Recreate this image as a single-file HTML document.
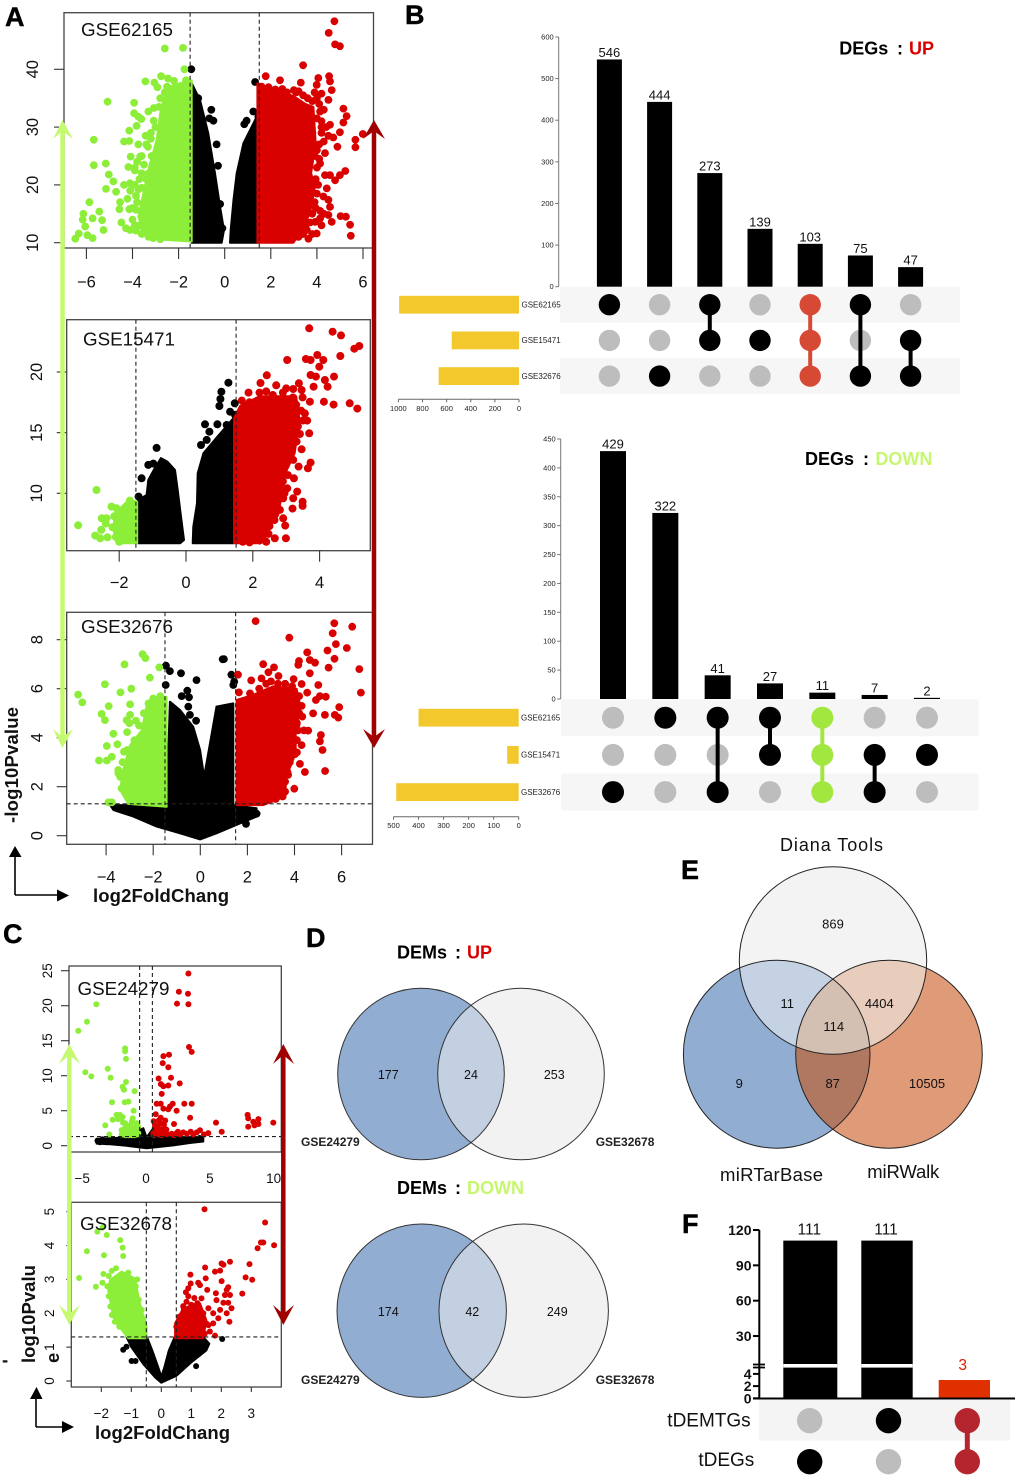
<!DOCTYPE html>
<html lang="en">
<head>
<meta charset="utf-8">
<title>DEG and DEM multi-panel figure</title>
<style>
html,body{margin:0;padding:0;background:#fff;}
svg{display:block;font-family:"Liberation Sans",Arial,sans-serif;}
.letter{font-size:27px;font-weight:bold;fill:#000;stroke:#000;stroke-width:.4px;}
.ttl{font-size:18px;font-weight:bold;fill:#000;}
.gse{font-size:18.8px;fill:#111;}
.axt{font-size:18.5px;font-weight:bold;fill:#111;}
.vn{font-size:12.5px;fill:#111;text-anchor:middle;}
.vnE{font-size:13px;fill:#111;text-anchor:middle;}
.vl{font-size:12px;font-weight:bold;fill:#222;}
</style>
</head>
<body>
<svg id="fig" xmlns="http://www.w3.org/2000/svg" width="1020" height="1479" viewBox="0 0 1020 1479">
<defs>
<clipPath id="cU"><ellipse cx="521" cy="1074" rx="83.3" ry="85.8"/></clipPath>
<clipPath id="cD"><ellipse cx="523.7" cy="1310.7" rx="84.7" ry="86.7"/></clipPath>
<clipPath id="eT"><ellipse cx="833" cy="960.5" rx="93.7" ry="93.8"/></clipPath>
<clipPath id="eL"><ellipse cx="776.7" cy="1054.2" rx="93.3" ry="94"/></clipPath>
</defs>
<rect width="1020" height="1479" fill="#fff"/>
<g id="plots"></g>

<!-- Venn D -->
<g>
<ellipse cx="421" cy="1074" rx="83.3" ry="85.8" fill="#91aed2"/>
<ellipse cx="521" cy="1074" rx="83.3" ry="85.8" fill="#f2f2f2"/>
<ellipse cx="421" cy="1074" rx="83.3" ry="85.8" fill="#c3d0e1" clip-path="url(#cU)"/>
<ellipse cx="421" cy="1074" rx="83.3" ry="85.8" fill="none" stroke="#333" stroke-width="1"/>
<ellipse cx="521" cy="1074" rx="83.3" ry="85.8" fill="none" stroke="#333" stroke-width="1"/>
<text class="vn" x="388.3" y="1079">177</text>
<text class="vn" x="471" y="1079">24</text>
<text class="vn" x="554.3" y="1079">253</text>
<text class="vl" x="301" y="1146">GSE24279</text>
<text class="vl" x="595.7" y="1146">GSE32678</text>
</g>
<g>
<ellipse cx="421.7" cy="1310.7" rx="84.7" ry="86.7" fill="#91aed2"/>
<ellipse cx="523.7" cy="1310.7" rx="84.7" ry="86.7" fill="#f2f2f2"/>
<ellipse cx="421.7" cy="1310.7" rx="84.7" ry="86.7" fill="#c3d0e1" clip-path="url(#cD)"/>
<ellipse cx="421.7" cy="1310.7" rx="84.7" ry="86.7" fill="none" stroke="#333" stroke-width="1"/>
<ellipse cx="523.7" cy="1310.7" rx="84.7" ry="86.7" fill="none" stroke="#333" stroke-width="1"/>
<text class="vn" x="388.3" y="1316">174</text>
<text class="vn" x="472.3" y="1316">42</text>
<text class="vn" x="557.3" y="1316">249</text>
<text class="vl" x="301" y="1384">GSE24279</text>
<text class="vl" x="595.7" y="1384">GSE32678</text>
</g>

<!-- Venn E -->
<g>
<ellipse cx="776.7" cy="1054.2" rx="93.3" ry="94" fill="#91aed2"/>
<ellipse cx="889" cy="1054.2" rx="93.3" ry="94" fill="#df9a78"/>
<g clip-path="url(#eL)"><ellipse cx="889" cy="1054.2" rx="93.3" ry="94" fill="#b07860"/></g>
<ellipse cx="833" cy="960.5" rx="93.7" ry="93.8" fill="#f3f3f3"/>
<g clip-path="url(#eT)">
<ellipse cx="776.7" cy="1054.2" rx="93.3" ry="94" fill="#c5d2e3"/>
<ellipse cx="889" cy="1054.2" rx="93.3" ry="94" fill="#e8ccbc"/>
<g clip-path="url(#eL)"><ellipse cx="889" cy="1054.2" rx="93.3" ry="94" fill="#d4bfb3"/></g>
</g>
<ellipse cx="776.7" cy="1054.2" rx="93.3" ry="94" fill="none" stroke="#222" stroke-width="1"/>
<ellipse cx="889" cy="1054.2" rx="93.3" ry="94" fill="none" stroke="#222" stroke-width="1"/>
<ellipse cx="833" cy="960.5" rx="93.7" ry="93.8" fill="none" stroke="#222" stroke-width="1"/>
<text class="vnE" x="833" y="928.5">869</text>
<text class="vnE" x="787.3" y="1008">11</text>
<text class="vnE" x="879.3" y="1008">4404</text>
<text class="vnE" x="833.7" y="1031">114</text>
<text class="vnE" x="739.3" y="1088">9</text>
<text class="vnE" x="832.7" y="1088">87</text>
<text class="vnE" x="927" y="1088">10505</text>
<text x="780" y="851" font-size="18" fill="#111" textLength="103">Diana Tools</text>
<text x="720" y="1181" font-size="18.5" fill="#111" textLength="103">miRTarBase</text>
<text x="867.3" y="1178" font-size="18.5" fill="#111" textLength="72">miRWalk</text>
</g>

<!-- Headings and letters -->
<text class="letter" x="5" y="26">A</text>
<text class="letter" x="405" y="24">B</text>
<text class="letter" x="3" y="943">C</text>
<text class="letter" x="306" y="947">D</text>
<text class="letter" x="681" y="879">E</text>
<text class="letter" x="682" y="1233">F</text>

<text class="ttl" x="839.3" y="54.3">DEGs<tspan x="897">:</tspan><tspan x="909" fill="#d90000">UP</tspan></text>
<text class="ttl" x="805" y="465">DEGs<tspan x="863">:</tspan><tspan x="875.4" fill="#c6f76e">DOWN</tspan></text>
<text class="ttl" x="397" y="958.3">DEMs<tspan x="455">:</tspan><tspan x="467" fill="#d90000">UP</tspan></text>
<text class="ttl" x="397" y="1194">DEMs<tspan x="455">:</tspan><tspan x="467" fill="#c6f76e">DOWN</tspan></text>

<!-- Axis titles -->
<text class="axt" transform="translate(18,823) rotate(-90)" textLength="116">-log10Pvalue</text>
<text class="axt" x="93" y="902" textLength="136">log2FoldChang</text>
<text class="axt" transform="translate(35,1363) rotate(-90)" textLength="98">log10Pvalu</text>
<text class="axt" transform="translate(59,1363) rotate(-90)">e</text>
<text class="axt" x="2" y="1366">-</text>
<text class="axt" x="95" y="1439" textLength="135">log2FoldChang</text>

<!-- Direction arrows -->
<g>
<line x1="15" y1="895" x2="15" y2="856" stroke="#000" stroke-width="1.6"/>
<polygon points="15,846 9,857 21.5,857" fill="#000"/>
<line x1="15" y1="895" x2="58" y2="895" stroke="#000" stroke-width="1.6"/>
<polygon points="69,895.5 57,889.5 57,901.5" fill="#000"/>
<line x1="62.5" y1="126" x2="62.5" y2="742" stroke="#c5fa70" stroke-width="4.5"/>
<polygon points="62.5,120 73,139 62.5,131 53,139" fill="#c5fa70"/>
<polygon points="62.5,748 73,729 62.5,737 53,729" fill="#c5fa70"/>
<line x1="374" y1="126" x2="374" y2="742" stroke="#a00000" stroke-width="4.5"/>
<polygon points="374,120 385,139 374,131 363,139" fill="#a00000"/>
<polygon points="374,748 385,729 374,737 363,729" fill="#a00000"/>
</g>
<g>
<line x1="36" y1="1427" x2="36" y2="1398" stroke="#000" stroke-width="1.6"/>
<polygon points="36.5,1387 30,1399 42.5,1399" fill="#000"/>
<line x1="36" y1="1427" x2="63" y2="1427" stroke="#000" stroke-width="1.6"/>
<polygon points="74,1427 62,1421 62,1433" fill="#000"/>
<line x1="69.3" y1="1050" x2="69.3" y2="1319" stroke="#c5fa70" stroke-width="4.5"/>
<polygon points="69.3,1044 80,1064 69.3,1055 59,1064" fill="#c5fa70"/>
<polygon points="69.3,1325 80,1305 69.3,1314 59,1305" fill="#c5fa70"/>
<line x1="283.3" y1="1050" x2="283.3" y2="1319" stroke="#a00000" stroke-width="4.5"/>
<polygon points="283.3,1044 294,1064 283.3,1055 273,1064" fill="#a00000"/>
<polygon points="283.3,1325 294,1305 283.3,1314 273,1305" fill="#a00000"/>
</g>
</svg>

<script>
// ---------- Panel A: GSE62165 ----------
const a1XTicks = [-6,-4,-2,0,2,4,6];
const a1YTicks = [10,20,30,40];
const a1Cutoffs = [-1.5,1.5];
const a1BlackMass = [[[-1.43,10.2],[-1.43,37.6],[-1.07,34.7],[-.71,28.9],[-.42,22],[-.2,16.2],[-.03,12.2],[-.13,10],[-1.43,10]],[[.23,10],[.26,12.2],[.38,17.4],[.52,22],[.81,27.2],[1.1,29.5],[1.46,32.4],[1.46,10]]];
const a1GreenMass = [[[-1.43,10.2],[-1.43,38.1],[-1.94,37.6],[-2.37,37],[-2.66,34.7],[-2.8,32.4],[-2.95,27.8],[-3.24,23.7],[-3.53,18.5],[-3.75,14.5],[-3.38,10.7]]];
const a1RedMass = [[[1.42,10],[1.42,37.6],[1.9,36.6],[2.26,36.2],[2.98,35.4],[3.5,34],[3.85,33.5],[3.95,27.2],[3.75,22],[3.92,19.7],[3.7,15.1],[3.27,11.6],[2.98,10]]];
const a1Black = [[-1.45,40],[-.58,33],[-.35,27],[-.29,23.3],[-.49,31.1],[-.67,31.5],[1.32,37.8],[1.24,32.7],[.95,31.1],[.85,30.5],[1.46,31.8],[-1.15,35],[-.1,12.5],[-.2,16.7]];
const a1Green = [[-2.6,43.6],[-1.81,43.7],[-1.75,40],[-1.68,38.1],[-3.44,37.9],[-3.05,37.7],[-2.92,36.9],[-2.76,38.8],[-2.46,38.4],[-5.08,34.4],[-3.93,34.2],[-3.93,32.4],[-3.75,31.8],[-3.07,33.3],[-3.31,32.7],[-3.08,31.1],[-3.62,31.4],[-3.82,30.2],[-4.14,29.4],[-3.43,28.5],[-5.68,27.8],[-4.37,27.5],[-4.14,27.6],[-3.75,27],[-3.33,26.6],[-5.68,23.4],[-5.16,23.7],[-5.03,21.8],[-5.15,19.3],[-4.83,20.6],[-4.71,18.8],[-4.37,20],[-4.11,20.3],[-4.18,23.1],[-4.08,24.9],[-3.67,24.9],[-3.17,25],[-3.75,19.2],[-3.85,18.1],[-4.22,17.6],[-4.54,17],[-4.57,15.8],[-4.14,15.8],[-3.85,15.7],[-4.48,13.5],[-4.28,12.5],[-3.85,12.1],[-5.87,17],[-6.13,15],[-6.16,14],[-5.73,14.2],[-5.44,15.4],[-5.32,13.9],[-5.26,12.2],[-6.05,12.8],[-6.33,11.6],[-6.48,10.7],[-5.96,11.3],[-5.73,10.8],[-4.1,12.2],[-3.6,22],[-3.9,22.5],[-3.4,21],[-2.6,36],[-2.8,35],[-3,30],[-3.2,29],[-3.4,27],[-3.6,25],[-3.2,28],[-2.85,33.5],[-2.5,37],[-2.2,38],[-3.8,24],[-3.9,23],[-3.5,23.5],[-3.3,22],[-3.7,21],[-3.9,20],[-3.6,19.5],[-3.8,17],[-4,16],[-4,14],[-3.7,13],[-3.9,13],[-3.6,11.5],[-3.3,11],[-3.1,10.8],[-2.8,10.6],[-3.5,12.5],[-4.1,19]];
const a1Red = [[4.76,48.3],[4.51,46.3],[4.79,44.3],[5,44],[3.4,40.7],[1.78,38.8],[2.4,38.1],[3.3,37.7],[4.53,38.8],[4.06,38.5],[4.57,37.9],[3.99,37.3],[4.64,36.4],[4.2,35.8],[5.15,33.2],[5.29,31.9],[5.15,30.8],[5,29.1],[4.5,34.7],[4.14,32.7],[4.57,30.4],[4.71,28.2],[4.89,26.6],[5.99,28.8],[5.67,27.8],[5.67,26.5],[4.35,25.5],[4.14,23.7],[5.23,22.4],[5,21.7],[4.79,20.8],[4.35,21.7],[4.57,21.7],[4.43,19.4],[4.28,18],[4.5,17.4],[4.57,16.2],[5.03,14.6],[5.26,14.5],[5.44,13.1],[5.47,11.2],[4.14,15.5],[4.5,14.8],[4.64,13.6],[3.92,13.6],[4.14,14.2],[3.99,11.6],[3.56,12.2],[3.63,10.7],[2.2,36.5],[2.7,36],[3,36.4],[3.2,36.2],[4,35],[3.8,29],[4.2,30],[3.9,25],[1.6,37],[1.9,36.9],[2.5,36.6],[3.1,36],[3.4,35.5],[3.6,35],[3.8,34.5],[3.9,36],[4.1,34],[4.3,33],[4.2,31],[4,31.5],[4.4,30],[4.2,29],[4.1,27],[4.3,27.5],[4.5,28.5],[4,26],[4.1,24.5],[4,23],[3.95,21],[4.05,20],[4,18.5],[3.9,17],[3.95,16],[3.8,15],[3.7,13.5],[3.5,13],[3.4,11.5],[3.2,11],[3.8,11.5],[4.3,15],[4.2,13]];

// ---------- Panel A: GSE15471 ----------
const a2XTicks = [-2,0,2,4];
const a2YTicks = [10,15,20];
const a2Cutoffs = [-1.5,1.5];
const a2BlackMass = [[[-1.43,5.88],[-1.43,9.45],[-1.18,9.86],[-1.13,11.1],[-.95,12],[-.75,12.9],[-.55,12.6],[-.33,11.92],[-.25,10.27],[-.15,8.08],[-.06,6.15],[-.18,5.88]],[[1.42,5.88],[.2,5.88],[.22,7.25],[.33,9.18],[.35,11.65],[.52,13.3],[.92,14.6],[1.42,16.2]]];
const a2GreenMass = [[[-1.46,5.88],[-1.46,9.31],[-1.72,9.45],[-2.13,8.35],[-2.18,6.98],[-2.03,5.88]]];
const a2RedMass = [[[1.44,5.88],[1.44,16.2],[1.62,17.2],[2.2,18],[2.71,18],[3.3,18],[3.4,16],[3.25,13.3],[3,11.8],[2.85,9.6],[2.76,8.2],[2.42,6.98],[2.12,5.88]]];
const a2Black = [[-.88,13.74],[-1.13,12.34],[-1.33,11.24],[-1.42,9.73],[-.98,12.45],[1.27,19.12],[1.06,18.38],[1.03,17.77],[1,17.2],[1.46,17.42],[1.32,16.73],[1.47,16.46],[.57,15.69],[.94,15.69],[.7,15.08],[1.22,15.63],[.45,13.98],[.62,14.4]];
const a2Green = [[-2.68,10.27],[-3.23,7.36],[-2.23,8.9],[-2.08,8.76],[-2.52,7.94],[-2.38,7.94],[-2.4,7.5],[-2.54,6.98],[-2.72,6.51],[-2.57,6.29],[-2.35,6.37],[-1.68,9.4],[-2.15,8.1],[-2.2,7.2],[-2.1,6.4],[-2,6]];
const a2Red = [[3.69,23.6],[4.39,23.32],[4.64,23.02],[5.04,21.92],[5.19,22.14],[4.62,21.32],[3.93,21.4],[3.03,20.99],[3.59,21.07],[3.73,20.99],[4.11,20.99],[3.99,20.44],[3.73,19.75],[3.89,19.62],[4.43,19.62],[4.16,19.34],[4.24,18.79],[3.82,18.79],[2.42,19.73],[2.23,19.09],[2.7,18.9],[3.38,19.07],[1.87,18.3],[3,18.65],[3.21,18.6],[3.46,18.52],[3.49,17.91],[1.67,17.64],[3.71,17.55],[4.13,17.55],[4.42,17.31],[4.9,17.42],[5.13,16.98],[3.56,16.59],[3.29,16.26],[3.63,15.99],[3.11,15.49],[3.69,14.95],[3.41,14.89],[3.31,14.26],[3.46,13.63],[3.73,12.53],[3.65,12.06],[3.37,12.2],[3.21,12.75],[3.23,11.24],[2.91,11.92],[2.71,11.65],[3.03,10.41],[3.33,10.14],[3.21,9.59],[2.91,9.59],[3.49,9.31],[3.49,8.96],[3.19,8.74],[2.91,7.94],[2.97,7.34],[2.99,6.29],[2.66,6.29],[2.47,6.65],[2.42,7.53],[2.81,8.63],[1.9,17.5],[2.2,18.3],[2.4,18.4],[2.6,18.1],[2.9,18.3],[3.2,17.9],[3.3,17.3],[3.45,16.8],[3.5,16],[3.35,15.5],[3.2,14.5],[3.1,14],[3.1,13],[3,12.5],[3.05,11.5],[2.9,11],[2.85,10.5],[2.95,10],[2.75,9.5],[2.6,8.5],[2.65,7.8],[2.5,7.3],[2.3,6.5],[2.2,6.1],[2.4,6],[1.7,6],[1.9,5.95]];

// ---------- Panel A: GSE32676 ----------
const a3XTicks = [-4,-2,0,2,4,6];
const a3YTicks = [0,2,4,6,8];
const a3Cutoffs = [-1.5,1.5];
const a3PCutoff = [1.3];
const a3BlackMass = [[[-3.83,1.25],[-1.43,1.25],[-1.29,5.47],[-.86,5.13],[-.3,4.45],[-.01,3.5],[.16,2.41],[.41,3.77],[.69,5.27],[1.4,5.4],[1.4,1.25],[2.39,1.12],[2.39,.78],[1.68,.5],[.69,.1],[-.01,-.15],[-.86,.1],[-1.85,.37],[-2.84,.78],[-3.69,1.05]]];
const a3GreenMass = [[[-1.43,1.18],[-1.43,5.67],[-1.85,5.6],[-2.28,5.3],[-2.49,4.3],[-2.98,3.7],[-3.3,2.6],[-3.4,1.86],[-3.06,1.3]]];
const a3RedMass = [[[1.54,1.25],[1.54,5.54],[2.25,5.75],[3.1,6.1],[4.09,6],[4.25,5.27],[4.05,4.18],[4.05,3.36],[3.65,2.41],[3.6,1.59],[2.67,1.25]]];
const a3Black = [[-1.46,6.94],[-1.29,6.72],[-.82,6.63],[-1.47,6.15],[-.16,6.35],[-.55,5.92],[-.79,5.7],[-.48,5.65],[.95,7.2],[1,7.21],[1.32,6.57],[1.44,6.29],[1.4,6.15],[1.94,.48],[-.51,5.27],[-.44,4.93],[-.18,4.69],[2.39,.9]];
const a3Green = [[-2.45,7.41],[-2.33,7.25],[-3.22,6.99],[-1.74,6.87],[-2.14,6.45],[-4.05,6.18],[-2.93,6],[-3.39,5.85],[-5.19,5.76],[-5.01,5.44],[-3.89,5.29],[-2.98,5.36],[-4.19,4.97],[-4.05,4.72],[-2.98,4.93],[-3.13,4.72],[-2.73,4.69],[-3.01,4.59],[-3.69,4.16],[-3.11,4.23],[-3.97,3.66],[-3.52,3.73],[-3.24,3.43],[-3.76,3.22],[-4.3,3.07],[-3.97,3.07],[-3.48,2.68],[-3.48,2.55],[-3.9,1.36],[-3.76,1.36],[-3.34,1.93],[-2.98,1.5],[-2.77,1.5],[-2.4,5],[-2.6,4.5],[-2.8,3.9],[-3.1,3.5],[-3.3,3],[-3.4,2.4],[-3.2,2],[-3.1,1.6],[-2,5.6],[-1.7,5.7],[-2.2,5.4]];
const a3Red = [[2.35,8.76],[5.69,8.67],[6.45,8.53],[5.62,8.26],[3.78,8.08],[5.76,7.82],[6.22,7.66],[5.4,7.56],[4.54,7.48],[5.7,7.22],[4.65,7.17],[4.87,7.06],[4.19,7.13],[4.16,6.97],[2.67,7],[3.13,6.87],[5.45,6.86],[6.75,6.8],[4.65,6.63],[2.89,6.67],[1.6,6.57],[2.16,6.34],[2.6,6.42],[3.32,6.52],[3.96,6.39],[4.3,6.19],[5.01,6.15],[6.82,5.84],[4.54,5.84],[5.08,5.7],[5.33,5.67],[4.91,5.54],[5.9,5.25],[5.29,4.93],[4.79,4.99],[5.71,4.93],[5.86,4.82],[4.33,4.86],[4.09,4.54],[4.58,4.29],[5.12,4.11],[5.08,3.85],[5.19,3.5],[4.3,3.7],[4.02,3.33],[4.23,2.93],[4.44,2.6],[5.3,2.64],[3.99,1.92],[3.73,2.48],[1.64,5.85],[2.11,5.81],[2.5,6],[2.8,6.2],[3,6.3],[3.3,6.2],[3.6,6.2],[3.9,6.1],[4.2,5.7],[4.3,5.3],[4.2,5],[4.1,4.6],[4.15,4.3],[4.1,3.9],[4.1,3.4],[3.8,3],[3.7,2.6],[3.6,2.2],[3.6,1.8],[3.5,1.6],[3.2,1.5],[2.9,1.5],[4.4,4.3],[3.7,5.5]];

// ---------- Panel C: GSE24279 ----------
const c1XTicks = [-5,0,5,10];
const c1YTicks = [0,5,10,15,20,25];
const c1Cutoffs = [-.5,.5];
const c1PCutoff = [1.3];
const c1BlackMass = [[[-3.87,1],[-2,1.15],[-.47,1.29],[-.21,2.5],[.05,1.2],[.57,2.5],[.84,1.25],[2.5,1.2],[4.49,1.1],[4.49,.6],[3.5,.4],[2.14,.05],[.05,-.35],[-1.51,-.02],[-2.8,.2],[-3.87,.3]]];
const c1GreenMass = [];
const c1RedMass = [];
const c1Black = [[-3.8,.7],[-3.4,.9],[-2.9,.8],[4.2,1.1],[-.4,2.1],[-3.6,.5],[-3.1,.5],[3.8,.8],[3.2,.7]];
const c1Green = [[-3.89,20.2],[-4.62,17.7],[-5.3,16.4],[-4.75,10.5],[-4.28,9.9],[-1.64,13.9],[-1.64,13.5],[-1.57,12.4],[-3,11],[-2.77,9.7],[-1.57,9.1],[-1.83,8.4],[-1.72,8],[-.89,7.8],[-2.66,6.2],[-1.67,6.2],[-1.38,6.3],[-.97,5],[-2.3,4.4],[-2.04,4.4],[-2.61,3.7],[-1.83,4.1],[-1.64,3.2],[-1.04,3.9],[-3.19,2.9],[-2.87,1.6],[-1.91,2.2],[-1.51,2],[-1.12,2.5],[-.73,3.2],[-.6,2.7],[-.86,1.9],[-1.38,1.5],[-1.72,1.6],[-1.12,1.5],[-.6,1.8],[-1.9,1.6],[-1.7,2.4],[-1.5,2.8],[-1.3,1.8],[-1,2],[-.8,2.6],[-1.2,3],[-1.6,1.5],[-.7,1.6],[-.9,1.5],[-1.4,2.4],[-1.1,3.5],[-.75,2.2],[-1.9,4],[-2.2,3.8],[-1.8,3.3]];
const c1Red = [[3.32,24.6],[2.58,22],[3.29,21.7],[2.43,20.3],[3.32,20.2],[3.37,14.1],[3.58,13.4],[1.36,12.8],[1.8,13],[1.31,11.8],[1.75,11.2],[.99,9.6],[1.96,9.7],[2.64,8.9],[1.17,8.8],[1.36,8.5],[1.75,8.6],[1.23,7.4],[.84,6],[1.15,6],[2.09,6],[1.88,5.6],[3,6],[3.58,6],[1.36,5.3],[1.75,5.2],[2.4,5],[.76,4.5],[1.15,4],[3.45,4],[1.1,3.2],[1.41,3],[2.19,3.1],[5.48,3.3],[5.93,2],[7.96,4.4],[8,3.9],[8,2.7],[8.4,3.4],[8.8,3.8],[8.8,3.1],[8.5,2.9],[9.97,3.3],[4.23,2.2],[4.88,1.8],[4.54,1.6],[3.97,1.9],[3.5,2],[2.92,1.9],[2.4,1.8],[2.01,1.7],[.84,1.8],[1.36,1.7],[.57,1.8],[.97,2.5],[.6,1.5],[.8,2.2],[1,1.6],[1.2,2.2],[1.4,2.6],[.7,2.9],[1,3.6],[1.5,3.6],[1.7,1.6],[1.2,1.5],[2.2,1.5],[2.7,1.6],[3.2,1.7],[3.7,1.6],[1.6,2.3],[.6,3.5],[2.5,2]];

// ---------- Panel C: GSE32678 ----------
const c2XTicks = [-2,-1,0,1,2,3];
const c2YTicks = [0,1,2,3,4,5];
const c2Cutoffs = [-.5,.5];
const c2PCutoff = [1.3];
const c2BlackMass = [[[-1.16,1.3],[-.49,1.33],[-.3,.9],[-.1,.4],[0,.13],[.1,.4],[.25,.9],[.46,1.33],[1.4,1.3],[1.6,1.1],[1.5,.9],[1,.55],[.5,.15],[0,-.05],[-.2,.1],[-.6,.5],[-1,1]]];
const c2GreenMass = [[[-.49,1.26],[-.49,1.6],[-.71,2.29],[-.88,3.03],[-1.32,3.23],[-1.71,2.98],[-1.77,2.68],[-1.6,1.89],[-1.49,1.7],[-1.1,1.26]]];
const c2RedMass = [[[.46,1.26],[.46,1.7],[.7,2.1],[1,2.25],[1.29,2.29],[1.5,1.8],[1.4,1.26]]];
const c2Black = [[-1.27,.92],[-1.16,1.01],[-.99,.59],[-.86,.59],[1.16,.44],[2.03,1.24]];
const c2Green = [[-2.13,4.41],[-1.96,4.53],[-1.82,4.31],[-1.37,4.16],[-1.29,3.94],[-1.27,3.69],[-2.48,3.83],[-1.91,3.71],[-2.74,3.04],[-2.18,2.78],[-1.93,3.16],[-1.96,2.9],[-1.51,3.33],[-1.75,3.1],[-1.65,3.25],[-1.8,2.8],[-1.75,2.5],[-1.7,2.2],[-1.65,1.95],[-1.55,1.75],[-1.4,1.6],[-.8,3],[-.85,2.8],[-.75,2.4],[-.65,2.1],[-.6,1.8],[-.55,1.5],[-1.1,3.2]];
const c2Red = [[1.44,5.07],[3.46,4.68],[3.32,4.09],[3.4,4.09],[3.21,3.92],[3.76,4.01],[2.94,3.45],[2.81,3.06],[3.03,2.99],[2.7,2.58],[2.29,3.52],[2.01,3.47],[2.07,3.43],[1.96,3.26],[1.79,3.23],[1.46,3.35],[1.48,3.03],[.97,3.14],[2.01,2.95],[.98,2.88],[1.23,2.9],[1.29,2.83],[.9,2.74],[.82,2.62],[1.53,2.69],[2.23,2.77],[2.18,2.69],[2.29,2.54],[2.12,2.54],[1.82,2.59],[.84,2.34],[1.34,2.44],[1.84,2.39],[2.07,2.31],[2.23,2.31],[2.34,2.15],[1.96,2.1],[1.57,2.15],[1.73,2],[2.18,2],[1.9,1.85],[2.27,1.75],[1.73,1.7],[1.57,1.65],[1.62,1.46],[1.79,1.34],[.73,2.21],[.5,1.6],[.6,1.9],[.75,2.15],[1,2.25],[1.2,2.3],[1.4,2],[1.5,1.7],[1.45,1.4],[.9,2.5],[1.1,2.45]];

// ---------- Panel B: UpSet data ----------
const setNames = ['GSE62165','GSE15471','GSE32676'];
const upCounts = [546,444,273,139,103,75,47];
const upYTicks = [0,100,200,300,400,500,600];
const upSetSizes = [994,558,666];
const upSizeTicks = [1000,800,600,400,200,0];
const upMembership = [[1,0,0],[0,0,1],[1,1,0],[0,1,0],[1,1,1],[1,0,1],[0,1,1]];
const downCounts = [429,322,41,27,11,7,2];
const downYTicks = [0,50,100,150,200,250,300,350,400,450];
const downSetSizes = [400,46,489];
const downSizeTicks = [500,400,300,200,100,0];
const downMembership = [[0,0,1],[1,0,0],[1,0,1],[1,1,0],[1,1,1],[0,1,1],[0,1,0]];

// ---------- Panel F data ----------
const fSetNames = ['tDEMTGs','tDEGs'];
const fCounts = [111,111,3];
const fUpperTicks = [30,60,90,120];
const fLowerTicks = [0,2,4];
const fMembership = [[0,1],[1,0],[1,1]];

const NS = 'http://www.w3.org/2000/svg';
const root = document.getElementById('plots');

function mk(parent, tag, attrs, text) {
  const el = document.createElementNS(NS, tag);
  for (const k in attrs) el.setAttribute(k, attrs[k]);
  if (text !== undefined) el.textContent = text;
  parent.appendChild(el);
  return el;
}
function minus(v) { return String(v).replace('-', '\u2212'); }

function drawMasses(g, masses, color, sx, sy) {
  masses.forEach(function (m) {
    const pts = m.map(function (p) { return sx(p[0]).toFixed(1) + ',' + sy(p[1]).toFixed(1); }).join(' ');
    const poly = mk(g, 'polygon', {points: pts, fill: color, stroke: color, 'stroke-width': 2, 'stroke-linejoin': 'round'});
    
    
  });
}
function drawPoints(g, points, color, r, sx, sy) {
  points.forEach(function (p) {
    const c = mk(g, 'circle', {cx: sx(p[0]).toFixed(1), cy: sy(p[1]).toFixed(1), r: r, fill: color});
    
    
  });
}

function drawVolcano(o) {
  const sx = function (v) { return o.x0 + o.xu * v; };
  const sy = function (v) { return o.y0 - o.yu * (v - o.yBase); };
  const g = mk(root, 'g', {});
  
  
  drawMasses(g, o.blackMass, '#000', sx, sy);
  drawPoints(g, o.black, '#000', o.r, sx, sy);
  drawMasses(g, o.greenMass, '#8cee38', sx, sy);
  drawPoints(g, o.green, '#8cee38', o.r, sx, sy);
  drawMasses(g, o.redMass, '#d90000', sx, sy);
  drawPoints(g, o.red, '#d90000', o.r, sx, sy);

  const frame = mk(g, 'rect', {x: o.l, y: o.t, width: o.rt - o.l, height: o.b - o.t, fill: 'none', stroke: '#444', 'stroke-width': 1.3});
  
  

  o.cutoffs.forEach(function (v) {
    const ln = mk(g, 'line', {x1: sx(v), x2: sx(v), y1: o.t, y2: o.b, stroke: '#222', 'stroke-width': 1.1, 'stroke-dasharray': '4 3'});
    
    
  });
  (o.pCut || []).forEach(function (v) {
    const ln = mk(g, 'line', {x1: o.l, x2: o.rt, y1: sy(v), y2: sy(v), stroke: '#222', 'stroke-width': 1.1, 'stroke-dasharray': '4 3'});
    
    
  });

  o.xTicks.forEach(function (v) {
    if (o.xTickLen) {
      const t = mk(g, 'line', {x1: sx(v), x2: sx(v), y1: o.b, y2: o.b + o.xTickLen, stroke: '#333', 'stroke-width': 1.1});
      
      
    }
    const lb = mk(g, 'text', {x: sx(v), y: o.xLabelY, 'text-anchor': 'middle', 'font-size': o.fs, fill: '#111'}, minus(v));
    
    
  });
  o.yTicks.forEach(function (v) {
    const t = mk(g, 'line', {x1: o.l - o.yTickLen, x2: o.l, y1: sy(v), y2: sy(v), stroke: '#333', 'stroke-width': 1.1});
    
    
    const lb = mk(g, 'text', {transform: 'translate(' + o.yLabelX + ',' + sy(v) + ') rotate(-90)', 'text-anchor': 'middle', 'font-size': o.fs, fill: '#111'}, minus(v));
    
    
  });
  const title = mk(g, 'text', {x: o.titleX, y: o.titleY, 'font-size': 18.8, fill: '#111'}, o.name);
  
  
}

drawVolcano({name:'GSE62165',l:64,rt:373.5,t:12.7,b:248,x0:224.7,xu:23.05,y0:242.7,yu:5.78,yBase:10,r:3.9,fs:16.5,
  xTicks:a1XTicks,yTicks:a1YTicks,cutoffs:a1Cutoffs,blackMass:a1BlackMass,greenMass:a1GreenMass,redMass:a1RedMass,black:a1Black,green:a1Green,red:a1Red,
  xTickLen:11,yTickLen:10,xLabelY:287.5,yLabelX:38,titleX:81,titleY:36});
drawVolcano({name:'GSE15471',l:66.7,rt:370.3,t:319.7,b:550.7,x0:186,xu:33.4,y0:493.3,yu:12.13,yBase:10,r:4,fs:16.5,
  xTicks:a2XTicks,yTicks:a2YTicks,cutoffs:a2Cutoffs,blackMass:a2BlackMass,greenMass:a2GreenMass,redMass:a2RedMass,black:a2Black,green:a2Green,red:a2Red,
  xTickLen:11,yTickLen:10,xLabelY:588,yLabelX:42,titleX:83,titleY:345.7});
drawVolcano({name:'GSE32676',l:66.7,rt:372.5,t:612.3,b:844.3,x0:200.3,xu:23.55,y0:835.7,yu:24.5,yBase:0,r:3.9,fs:16.5,
  xTicks:a3XTicks,yTicks:a3YTicks,cutoffs:a3Cutoffs,pCut:a3PCutoff,blackMass:a3BlackMass,greenMass:a3GreenMass,redMass:a3RedMass,black:a3Black,green:a3Green,red:a3Red,
  xTickLen:11,yTickLen:10,xLabelY:882.7,yLabelX:42.7,titleX:81,titleY:633});
drawVolcano({name:'GSE24279',l:69,rt:281.3,t:966,b:1152,x0:146,xu:12.77,y0:1145.7,yu:7,yBase:0,r:3,fs:13.5,
  xTicks:c1XTicks,yTicks:c1YTicks,cutoffs:c1Cutoffs,pCut:c1PCutoff,blackMass:c1BlackMass,greenMass:c1GreenMass,redMass:c1RedMass,black:c1Black,green:c1Green,red:c1Red,
  xTickLen:0,yTickLen:8,xLabelY:1183,yLabelX:52,titleX:77.5,titleY:995});
drawVolcano({name:'GSE32678',l:71.3,rt:281.3,t:1202.3,b:1387,x0:161.3,xu:30,y0:1381,yu:33.87,yBase:0,r:3,fs:13.5,
  xTicks:c2XTicks,yTicks:c2YTicks,cutoffs:c2Cutoffs,pCut:c2PCutoff,blackMass:c2BlackMass,greenMass:c2GreenMass,redMass:c2RedMass,black:c2Black,green:c2Green,red:c2Red,
  xTickLen:5,yTickLen:5,xLabelY:1418,yLabelX:54,titleX:80,titleY:1230});

function drawUpset(o) {
  const g = mk(root, 'g', {});
  
  
  const sy = function (v) { return o.zero - o.yu * v; };
  const colX = function (i) { return o.x0 + o.dx * i; };
  const sizeX = function (v) { return o.sizeZero - o.sizeU * v; };
  const rowY = function (i) { return o.row0 + o.dy * i; };

  [0, 2].forEach(function (i) {
    const s = mk(g, 'rect', {x: o.stripeL, width: o.stripeR - o.stripeL, y: rowY(i) - o.stripeH / 2, height: o.stripeH, fill: '#f6f6f6'});
    
    
  });

  const ax = mk(g, 'line', {x1: o.axisX, x2: o.axisX, y1: sy(o.yTicks[o.yTicks.length - 1]), y2: sy(0), stroke: '#777', 'stroke-width': 1});
  
  
  o.yTicks.forEach(function (v) {
    const t = mk(g, 'line', {x1: o.axisX - 3.5, x2: o.axisX, y1: sy(v), y2: sy(v), stroke: '#777', 'stroke-width': 1});
    
    
    const lb = mk(g, 'text', {x: o.axisX - 5, y: sy(v) + 2.5, 'text-anchor': 'end', 'font-size': 7.5, fill: '#222'}, v);
    
    
  });

  o.counts.forEach(function (v, i) {
    const b = mk(g, 'rect', {x: colX(i) - o.barW / 2, width: o.barW, y: sy(v), height: o.zero - sy(v), fill: '#000'});
    
    
    const lb = mk(g, 'text', {x: colX(i), y: sy(v) - 2.5, 'text-anchor': 'middle', 'font-size': 13, fill: '#111'}, v);
    
    
  });

  o.sizes.forEach(function (v, i) {
    const b = mk(g, 'rect', {x: sizeX(v), width: o.sizeZero - sizeX(v), y: rowY(i) - 8.9, height: 17.8, fill: '#f2c82c'});
    
    
    const lb = mk(g, 'text', {x: o.labelX, y: rowY(i) + 2.7, 'font-size': 8, fill: '#222'}, setNames[i]);
    
    
  });
  const sa = mk(g, 'line', {x1: sizeX(o.sizeTicks[0]), x2: sizeX(0), y1: o.sizeAxisY, y2: o.sizeAxisY, stroke: '#666', 'stroke-width': 1});
  
  
  o.sizeTicks.forEach(function (v) {
    const t = mk(g, 'line', {x1: sizeX(v), x2: sizeX(v), y1: o.sizeAxisY, y2: o.sizeAxisY + 3, stroke: '#666', 'stroke-width': 1});
    
    
    const lb = mk(g, 'text', {x: sizeX(v), y: o.sizeAxisY + 11.5, 'text-anchor': 'middle', 'font-size': 7.5, fill: '#222'}, v);
    
    
  });

  o.membership.forEach(function (col, i) {
    const color = i === o.hiIndex ? o.hiColor : '#000';
    col.forEach(function (m, r) {
      const c = mk(g, 'circle', {cx: colX(i), cy: rowY(r), r: o.dotR, fill: m ? color : '#bdbdbd'});
      
      
    });
    const idx = col.map(function (m, r) { return m ? r : -1; }).filter(function (r) { return r >= 0; });
    if (idx.length > 1) {
      const l = mk(g, 'line', {x1: colX(i), x2: colX(i), y1: rowY(idx[0]), y2: rowY(idx[idx.length - 1]), stroke: color, 'stroke-width': 4});
      
      
    }
  });
}

drawUpset({name:'up',counts:upCounts,yTicks:upYTicks,sizes:upSetSizes,sizeTicks:upSizeTicks,membership:upMembership,hiIndex:4,hiColor:'#d64a35',
  zero:286.7,yu:.4162,axisX:558.7,x0:609.4,dx:50.2,barW:25,stripeL:560,stripeR:960,stripeH:35.5,row0:304.7,dy:35.7,dotR:10.7,
  sizeZero:519,sizeU:.1206,sizeAxisY:399.3,labelX:521.5});
drawUpset({name:'down',counts:downCounts,yTicks:downYTicks,sizes:downSetSizes,sizeTicks:downSizeTicks,membership:downMembership,hiIndex:4,hiColor:'#a2e640',
  zero:699,yu:.5778,axisX:560.7,x0:613,dx:52.33,barW:26,stripeL:561,stripeR:978.5,stripeH:37,row0:717.7,dy:37.2,dotR:11,
  sizeZero:518.7,sizeU:.2504,sizeAxisY:816.7,labelX:521});

function drawF() {
  const g = mk(root, 'g', {});
  
  
  const upperY = function (v) { return 1230 + (120 - v) * 1.178; };
  const lowerY = function (v) { return 1398.3 - v * 6.1; };
  const colX = function (i) { return 809.7 + 78.8 * i; };
  const rowY = function (i) { return 1420.7 + 41 * i; };
  const barL = [783.3, 861.3, 938.7];
  const barW = [54, 51.4, 51.3];
  const stripe = mk(g, 'rect', {x: 759, y: 1400, width: 251, height: 40.7, fill: '#f4f4f4'});
  
  

  fCounts.forEach(function (v, i) {
    const big = v > 5;
    const top = big ? upperY(v) : lowerY(v);
    const b = mk(g, 'rect', {x: barL[i], width: barW[i], y: top, height: 1398.3 - top, fill: big ? '#000' : '#e03000'});
    
    
    if (big) {
      const gap = mk(g, 'rect', {x: barL[i], width: barW[i], y: 1364, height: 3.6, fill: '#fff'});
      
      
    }
    const lb = mk(g, 'text', {x: big ? barL[i] + barW[i] / 2 - 1 : 962.7, y: big ? upperY(v) - 6 : 1370, 'text-anchor': 'middle', 'font-size': 15.5, fill: big ? '#111' : '#e01a00'}, v);
    
    
  });

  const ya = mk(g, 'line', {x1: 759.3, x2: 759.3, y1: upperY(120), y2: 1398.3, stroke: '#000', 'stroke-width': 2});
  
  
  const xa = mk(g, 'line', {x1: 753, x2: 1015, y1: 1398.5, y2: 1398.5, stroke: '#000', 'stroke-width': 2});
  
  
  const br1 = mk(g, 'line', {x1: 753, x2: 765, y1: 1364.5, y2: 1364.5, stroke: '#000', 'stroke-width': 1.8});
  
  
  const br2 = mk(g, 'line', {x1: 753, x2: 765, y1: 1367.5, y2: 1367.5, stroke: '#000', 'stroke-width': 1.8});
  
  

  fUpperTicks.forEach(function (v) {
    const t = mk(g, 'line', {x1: 753, x2: 759.3, y1: upperY(v), y2: upperY(v), stroke: '#000', 'stroke-width': 2});
    
    
    const lb = mk(g, 'text', {x: 751.5, y: upperY(v) + 5, 'text-anchor': 'end', 'font-size': 14, 'font-weight': 'bold', fill: '#111'}, v);
    
    
  });
  fLowerTicks.forEach(function (v) {
    const t = mk(g, 'line', {x1: 753, x2: 759.3, y1: lowerY(v), y2: lowerY(v), stroke: '#000', 'stroke-width': 2});
    
    
    const lb = mk(g, 'text', {x: 751.5, y: lowerY(v) + 5, 'text-anchor': 'end', 'font-size': 14, 'font-weight': 'bold', fill: '#111'}, v);
    
    
  });

  fMembership.forEach(function (col, i) {
    const color = col[0] && col[1] ? '#b5252e' : '#000';
    col.forEach(function (m, r) {
      const c = mk(g, 'circle', {cx: colX(i), cy: rowY(r), r: 12.7, fill: m ? color : '#bdbdbd'});
      
      
    });
    if (col[0] && col[1]) {
      const l = mk(g, 'line', {x1: colX(i), x2: colX(i), y1: rowY(0), y2: rowY(1), stroke: color, 'stroke-width': 5});
      
      
    }
  });
  fSetNames.forEach(function (n, i) {
    const lb = mk(g, 'text', {x: i === 0 ? 750.7 : 754.3, y: i === 0 ? 1426.7 : 1466, 'text-anchor': 'end', 'font-size': 19, fill: '#111'}, n);
    
    
  });
}
drawF();
</script>
</body>
</html>
